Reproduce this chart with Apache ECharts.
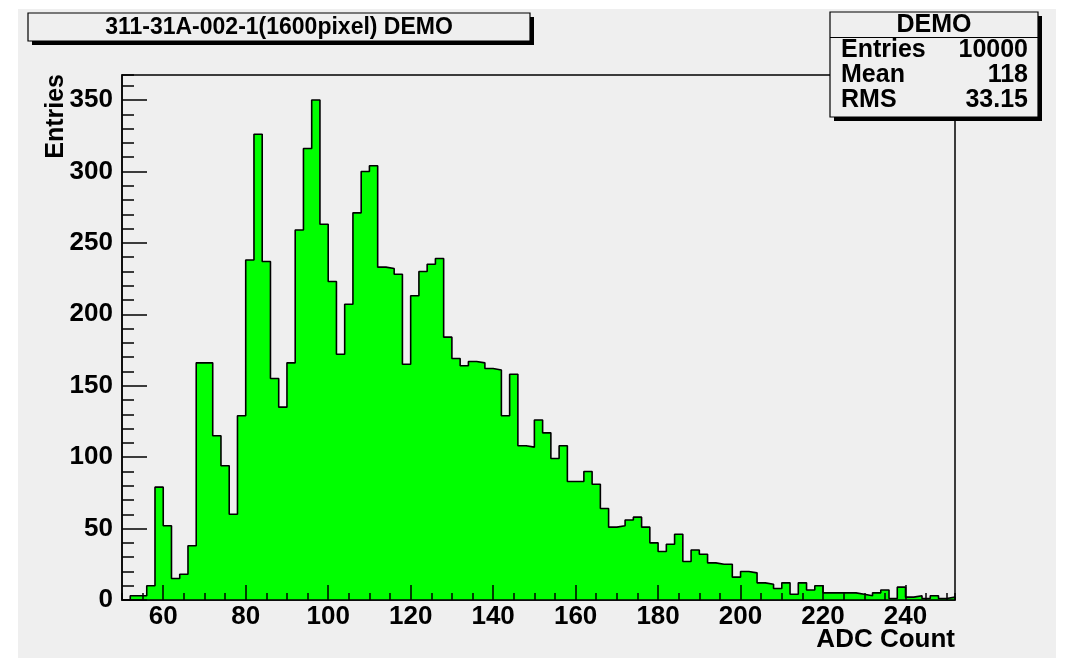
<!DOCTYPE html>
<html><head><meta charset="utf-8">
<script src="https://cdn.jsdelivr.net/npm/echarts@6/dist/echarts.min.js"></script>
<style>
html,body{margin:0;padding:0;background:#fff;}
#bg{position:absolute;left:18px;top:9px;width:1038px;height:649px;background:#efefef;}
#chart{position:absolute;left:0;top:0;width:1072px;height:658px;}
</style></head><body>
<div id="bg"></div><div id="chart"></div>
<script>
// ---- data ----
const titleText = '311-31A-002-1(1600pixel) DEMO';
const statsTitle = 'DEMO';
const statsLabels = ['Entries', 'Mean', 'RMS'];
const statsValues = ['10000', '118', '33.15'];
const xAxisTitle = 'ADC Count';
const yAxisTitle = 'Entries';
const binStart = 50;
const binWidth = 2;
const counts = [
  0, 3, 3, 10, 79, 52, 15, 18, 38, 166,
  166, 115, 94, 60, 129, 238, 326, 237, 155, 135,
  166, 259, 316, 350, 263, 223, 172, 207, 271, 300,
  304, 233, 232, 228, 165, 213, 230, 235, 239, 184,
  169, 164, 167, 166, 162, 161, 129, 158, 108, 107,
  126, 117, 99, 108, 83, 83, 90, 81, 64, 51,
  52, 56, 58, 51, 40, 34, 39, 46, 27, 35,
  32, 26, 25, 25, 16, 20, 19, 12, 11, 8,
  12, 4, 12, 7, 10, 5, 5, 5, 5, 4,
  3, 5, 7, 1, 9, 2, 3, 1, 3, 1,
  2
];
const xTickLabels = [60, 80, 100, 120, 140, 160, 180, 200, 220, 240];
const yTickLabels = [0, 50, 100, 150, 200, 250, 300, 350];
const xMin = 50, xMax = 252, yMin = 0, yMax = 367.5;

// ---- build ----
const F = "'Liberation Sans', Arial, Helvetica, sans-serif";
const histData = counts.map((c, i) => [binStart + i * binWidth, c]);
histData.push([binStart + counts.length * binWidth, 0]);

const chart = echarts.init(document.getElementById('chart'), null, {renderer: 'canvas'});
const blk = {color: '#000', width: 1.5};

const g = [];
// title box
g.push({type: 'rect', shape: {x: 32, y: 17, width: 502, height: 28}, style: {fill: '#000'}, z: 100});
g.push({type: 'rect', shape: {x: 28, y: 13, width: 502, height: 28}, style: {fill: '#efefef', stroke: '#000', lineWidth: 1.2}, z: 101});
g.push({type: 'text', x: 279, y: 28, style: {text: titleText, font: 'bold 23px ' + F, fill: '#000', textAlign: 'center', textVerticalAlign: 'middle'}, z: 102});
// stats box
g.push({type: 'rect', shape: {x: 834, y: 16, width: 208, height: 105}, style: {fill: '#000'}, z: 100});
g.push({type: 'rect', shape: {x: 830, y: 12, width: 208, height: 105}, style: {fill: '#efefef', stroke: '#000', lineWidth: 1.2}, z: 101});
g.push({type: 'line', shape: {x1: 830, y1: 37.5, x2: 1038, y2: 37.5}, style: {stroke: '#000', lineWidth: 1.2}, z: 102});
g.push({type: 'text', x: 934, y: 25.5, style: {text: statsTitle, font: 'bold 25px ' + F, fill: '#000', textAlign: 'center', textVerticalAlign: 'middle'}, z: 102});
const rowY = [50.5, 75, 100];
statsLabels.forEach((lab, i) => {
  g.push({type: 'text', x: 841, y: rowY[i], style: {text: lab, font: 'bold 25px ' + F, fill: '#000', textAlign: 'left', textVerticalAlign: 'middle'}, z: 102});
  g.push({type: 'text', x: 1028, y: rowY[i], style: {text: statsValues[i], font: 'bold 25px ' + F, fill: '#000', textAlign: 'right', textVerticalAlign: 'middle'}, z: 102});
});
// axis titles
g.push({type: 'text', x: 56, y: 74, rotation: Math.PI / 2, style: {text: yAxisTitle, font: 'bold 25px ' + F, fill: '#000', textAlign: 'right', textVerticalAlign: 'middle'}, z: 102});
g.push({type: 'text', x: 955, y: 640, style: {text: xAxisTitle, font: 'bold 26px ' + F, fill: '#000', textAlign: 'right', textVerticalAlign: 'middle'}, z: 102});

const option = {
  animation: false,
  backgroundColor: 'transparent',
  grid: {left: 122, right: 117, top: 75, bottom: 58, show: true, borderColor: '#000', borderWidth: 1.5, backgroundColor: 'transparent'},
  xAxis: [
    {type: 'value', min: xMin, max: xMax, interval: 5, position: 'bottom', z: 5,
     axisLine: {show: true, onZero: false, lineStyle: blk},
     axisTick: {show: true, inside: true, length: 7, lineStyle: blk},
     axisLabel: {show: false}, splitLine: {show: false}},
    {type: 'value', min: xMin, max: xMax, position: 'bottom', z: 5,
     axisLine: {show: false, onZero: false},
     axisTick: {show: true, inside: true, length: 15, customValues: xTickLabels, lineStyle: blk},
     axisLabel: {show: true, customValues: xTickLabels, fontSize: 26, fontWeight: 'bold', fontFamily: F, color: '#000', margin: 4},
     splitLine: {show: false}}
  ],
  yAxis: [
    {type: 'value', min: yMin, max: yMax, interval: 10, position: 'left', z: 5,
     axisLine: {show: true, onZero: false, lineStyle: blk},
     axisTick: {show: true, inside: true, length: 12, lineStyle: blk},
     axisLabel: {show: false}, splitLine: {show: false}},
    {type: 'value', min: yMin, max: yMax, position: 'left', offset: 0, z: 5,
     axisLine: {show: false, onZero: false},
     axisTick: {show: true, inside: true, length: 25, customValues: yTickLabels, lineStyle: blk},
     axisLabel: {show: true, customValues: yTickLabels, fontSize: 26, fontWeight: 'bold', fontFamily: F, color: '#000', margin: 9},
     splitLine: {show: false}}
  ],
  series: [{
    type: 'line', xAxisIndex: 0, yAxisIndex: 0, step: 'end', data: histData,
    showSymbol: false, symbol: 'none', z: 2,
    lineStyle: {color: '#000', width: 1.6},
    itemStyle: {color: '#000'},
    areaStyle: {color: '#00ff00', opacity: 1}
  }],
  graphic: {elements: g}
};
chart.setOption(option);
</script>
</body></html>
